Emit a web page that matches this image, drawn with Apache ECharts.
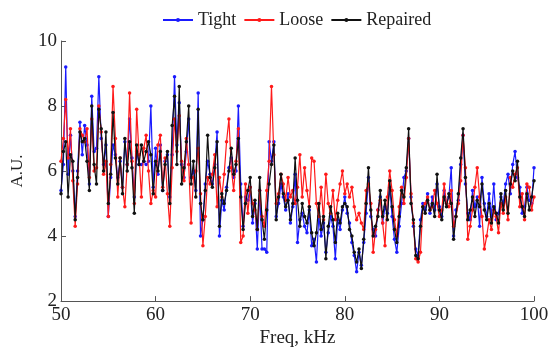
<!DOCTYPE html>
<html>
<head>
<meta charset="utf-8">
<script src="https://cdn.jsdelivr.net/npm/echarts@6/dist/echarts.min.js"></script>
<style>
html,body{margin:0;padding:0;background:#fff;}
#chart{width:552px;height:353px;}
</style>
</head>
<body>
<div id="chart"></div>
<script>
// Frequency grid: 50 to 100 kHz, 0.25 kHz steps
const freqStart = 50;
const freqStep = 0.25;

const seriesNames = ['Tight', 'Loose', 'Repaired'];
const xTicks = [50, 60, 70, 80, 90, 100];
const yTicks = [2, 4, 6, 8, 10];

const tight = [
  5.4, 6.2, 9.2, 5.9,  7.1, 6.0, 4.6, 6.0,  7.5, 6.5, 7.4, 6.8,  5.6, 8.3, 6.6, 6.7,  8.9, 7.0, 6.2, 6.8,
  4.6, 5.8, 6.8, 6.5,  5.8, 6.3, 5.5, 6.9,  6.2, 7.6, 6.4, 5.2,  6.6, 6.2, 6.2, 6.3,  6.2, 6.3, 8.0, 5.5,
  6.7, 5.9, 6.8, 5.4,  6.3, 6.5, 5.2, 6.5,  8.9, 6.8, 8.1, 6.2,  5.8, 6.6, 7.6, 5.8,  6.0, 5.4, 8.4, 4.0,
  4.5, 5.6, 6.3, 5.9,  5.6, 6.2, 7.2, 4.0,  5.1, 4.8, 5.5, 6.1,  6.4, 5.8, 6.0, 8.0,  5.6, 4.3, 5.2, 5.1,
  5.5, 4.4, 5.0, 3.6,  5.4, 3.6, 3.6, 3.5,  6.9, 6.3, 6.9, 4.6,  5.0, 5.6, 5.2, 4.8,  5.3, 4.4, 4.9, 5.9,
  3.8, 4.5, 4.7, 4.3,  4.1, 4.8, 3.7, 3.9,  3.2, 4.6, 4.0, 4.4,  3.5, 4.1, 4.6, 4.3,  3.3, 4.5, 4.2, 4.8,
  5.2, 4.7, 4.4, 3.8,  3.4, 2.9, 3.5, 3.1,  3.8, 4.7, 5.8, 4.6,  4.2, 4.0, 4.8, 5.2,  4.4, 4.9, 4.7, 5.5,
  4.6, 3.9, 3.5, 4.3,  5.0, 5.8, 6.0, 7.0,  5.2, 4.3, 3.6, 3.4,  4.5, 5.0, 4.8, 5.3,  4.7, 5.2, 4.8, 5.6,
  4.9, 4.6, 5.4, 5.0,  5.2, 6.1, 4.0, 4.8,  5.1, 6.2, 7.1, 5.6,  4.7, 4.5, 5.4, 4.9,  5.2, 4.3, 5.8, 5.0,
  4.6, 5.3, 4.6, 5.6,  4.5, 4.7, 5.2, 5.0,  5.6, 5.9, 5.3, 6.2,  6.6, 5.8, 5.5, 4.7,  4.9, 5.5, 5.1, 5.0,
  6.1
];

const loose = [
  6.3, 7.0, 8.2, 6.4,  7.3, 5.7, 4.3, 5.6,  7.3, 7.1, 6.9, 7.3,  5.8, 7.6, 6.0, 6.1,  8.0, 7.2, 5.9, 6.3,
  4.6, 6.2, 8.6, 7.0,  5.2, 6.4, 5.5, 4.9,  6.2, 8.4, 6.3, 5.0,  7.9, 6.5, 5.2, 6.7,  7.1, 6.0, 5.0, 5.4,
  5.2, 6.8, 7.1, 5.5,  6.4, 5.3, 4.3, 6.1,  7.6, 6.6, 7.7, 6.3,  5.7, 7.0, 6.2, 4.4,  5.8, 6.0, 6.7, 5.3,
  3.7, 4.6, 5.8, 5.6,  5.9, 6.5, 4.9, 5.8,  5.2, 5.9, 6.9, 7.6,  6.1, 5.4, 6.3, 7.3,  3.8, 4.0, 5.6, 4.7,
  5.5, 5.0, 4.8, 4.2,  5.4, 4.6, 4.3, 5.4,  6.3, 8.6, 6.5, 5.0,  5.3, 5.9, 5.6, 5.1,  5.8, 5.2, 5.4, 5.0,
  5.5, 6.5, 5.2, 6.1,  5.4, 4.9, 6.4, 6.3,  5.0, 4.6, 5.5, 4.5,  5.9, 5.0, 4.7, 5.4,  4.5, 5.1, 5.6, 6.0,
  5.3, 5.6, 5.2, 5.5,  4.9, 4.5, 4.7, 4.4,  4.2, 5.4, 5.6, 5.0,  3.5, 4.2, 4.8, 5.1,  4.4, 3.7, 5.2, 6.0,
  5.4, 4.5, 4.0, 4.9,  5.5, 5.0, 5.8, 7.0,  5.3, 4.4, 3.3, 3.2,  3.5, 4.9, 5.0, 5.2,  4.8, 4.9, 5.4, 5.0,
  4.6, 4.8, 5.6, 5.0,  4.9, 5.4, 4.3, 4.6,  5.0, 5.7, 7.1, 6.1,  3.9, 4.3, 4.8, 5.5,  6.1, 5.2, 4.6, 3.6,
  4.0, 4.5, 4.2, 4.8,  4.6, 4.1, 5.0, 4.7,  5.2, 4.5, 5.8, 5.5,  5.9, 6.1, 4.9, 5.3,  4.5, 5.6, 5.5, 4.8,
  5.2
];

const repaired = [
  5.3, 6.6, 6.9, 5.2,  6.5, 6.3, 4.5, 5.8,  7.2, 6.9, 7.0, 6.3,  5.4, 8.0, 6.2, 5.6,  7.9, 7.3, 6.0, 7.2,
  5.0, 5.9, 7.8, 6.4,  5.6, 6.4, 5.3, 7.0,  6.0, 6.9, 6.1, 4.7,  6.8, 6.2, 6.8, 6.3,  6.6, 6.9, 6.5, 5.3,
  6.3, 6.0, 6.6, 5.4,  6.2, 6.6, 5.0, 7.4,  8.3, 6.2, 8.6, 5.6,  6.1, 6.9, 8.0, 5.6,  6.3, 5.2, 7.9, 5.0,
  4.5, 5.4, 7.1, 5.8,  5.5, 6.1, 6.9, 4.3,  5.3, 5.0, 5.4, 6.0,  6.7, 5.9, 6.2, 7.0,  5.2, 4.2, 5.0, 5.4,
  5.8, 4.6, 5.1, 4.2,  5.8, 4.5, 3.9, 4.8,  5.6, 6.2, 6.8, 4.5,  5.2, 5.9, 5.3, 4.9,  5.1, 4.5, 5.0, 6.4,
  5.1, 4.3, 5.0, 4.6,  4.4, 4.9, 4.1, 3.7,  4.1, 5.0, 4.2, 4.6,  3.3, 4.3, 4.9, 4.5,  3.8, 4.7, 4.4, 4.9,
  5.0, 4.9, 4.2, 4.0,  3.5, 3.2, 3.6, 3.0,  3.9, 5.0, 6.1, 4.8,  4.0, 4.3, 4.6, 5.4,  4.6, 5.1, 4.5, 5.7,
  4.9, 4.2, 3.8, 4.6,  5.4, 5.2, 6.1, 7.3,  5.0, 4.5, 3.4, 3.3,  4.3, 4.9, 4.7, 5.1,  4.8, 5.0, 4.6, 5.9,
  4.8, 4.5, 5.2, 4.9,  5.3, 5.0, 3.9, 4.6,  5.3, 6.4, 7.3, 5.8,  4.5, 4.8, 5.2, 4.6,  5.1, 4.9, 5.6, 4.8,
  4.5, 5.0, 4.4, 4.9,  4.7, 4.4, 5.3, 4.8,  5.4, 4.7, 5.6, 6.0,  5.7, 6.3, 5.2, 4.9,  4.6, 5.3, 4.8, 5.2,
  5.7
];

const colors = ['#1a1aff', '#ff1a1a', '#111111'];

function pairs(vals) {
  return vals.map((v, i) => [freqStart + i * freqStep, v]);
}

const fontFam = '"Liberation Serif", "Times New Roman", serif';
const chart = echarts.init(document.getElementById('chart'), null, {renderer: 'canvas'});

const seriesData = [tight, loose, repaired];

chart.setOption({
  animation: false,
  backgroundColor: '#ffffff',
  textStyle: {fontFamily: fontFam},
  legend: {
    top: 6,
    left: 157,
    itemWidth: 30,
    itemHeight: 5,
    itemGap: 7,
    textStyle: {fontFamily: fontFam, fontSize: 18, color: '#222'},
    data: seriesNames
  },
  grid: {left: 61, right: 18, top: 41, bottom: 49, containLabel: false},
  xAxis: {
    type: 'value',
    min: xTicks[0],
    max: xTicks[xTicks.length - 1],
    interval: 10,
    name: 'Freq, kHz',
    nameLocation: 'middle',
    nameGap: 25,
    nameTextStyle: {fontFamily: fontFam, fontSize: 19, color: '#222'},
    axisLine: {lineStyle: {color: '#555', width: 1}},
    axisTick: {inside: true, length: 5, lineStyle: {color: '#555'}},
    axisLabel: {fontFamily: fontFam, fontSize: 19, color: '#222', margin: 4},
    splitLine: {show: false}
  },
  yAxis: {
    type: 'value',
    min: yTicks[0],
    max: yTicks[yTicks.length - 1],
    interval: 2,
    name: 'A.U.',
    nameLocation: 'middle',
    nameRotate: 90,
    nameGap: 35,
    nameTextStyle: {fontFamily: fontFam, fontSize: 17, color: '#222'},
    axisLine: {show: true, lineStyle: {color: '#555', width: 1}},
    axisTick: {show: true, inside: true, length: 5, lineStyle: {color: '#555'}},
    axisLabel: {fontFamily: fontFam, fontSize: 19, color: '#222', margin: 4},
    splitLine: {show: false}
  },
  series: seriesNames.map((name, k) => ({
    name: name,
    type: 'line',
    data: pairs(seriesData[k]),
    symbol: 'circle',
    symbolSize: 3.5,
    showSymbol: true,
    color: colors[k],
    lineStyle: {width: 1.2, color: colors[k]},
    itemStyle: {color: colors[k]},
    z: 2 + k
  }))
});
</script>
</body>
</html>
